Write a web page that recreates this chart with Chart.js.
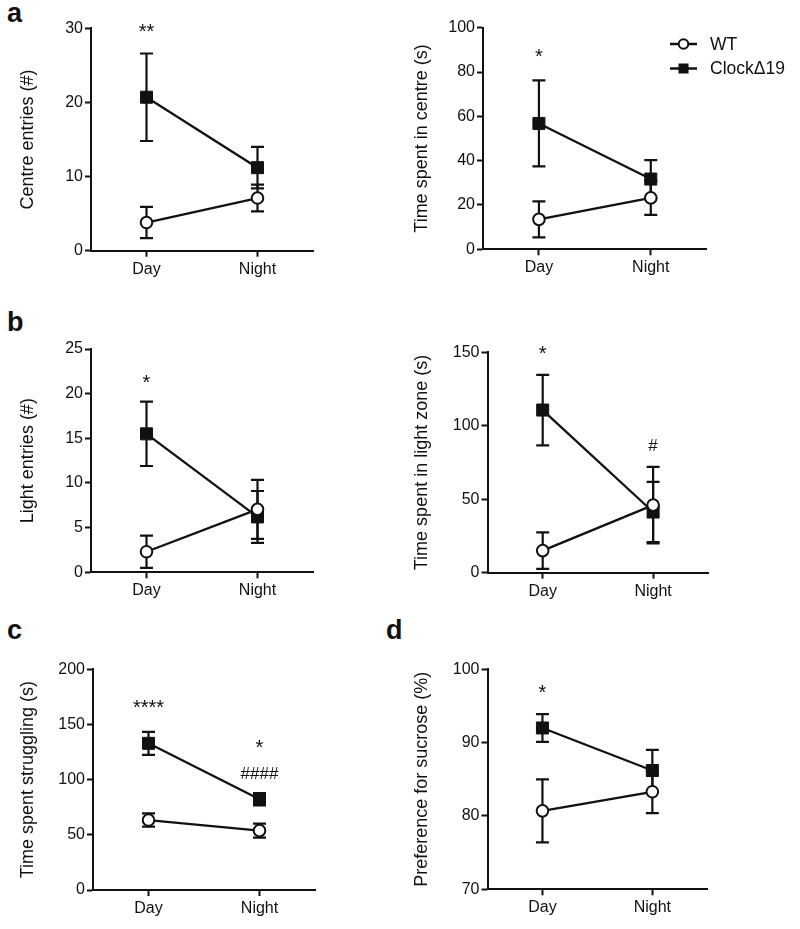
<!DOCTYPE html>
<html lang="en">
<head>
<meta charset="UTF-8">
<title>Clock&#916;19 behaviour, day vs night</title>
<script src="https://cdn.jsdelivr.net/npm/chart.js"></script>
<style>
  body { margin: 0; background: #fff; }
  #wrap { position: relative; width: 800px; height: 929px; font-family: "Liberation Sans", Arial, sans-serif; color: #111; }
  .panel { position: absolute; }
  .letter { position: absolute; font-weight: bold; font-size: 27px; line-height: 1; }
</style>
</head>
<body>
<div id="wrap">
  <div class="letter" style="left:7px; top:0px;">a</div>
  <div class="letter" style="left:7px; top:309px;">b</div>
  <div class="letter" style="left:7px; top:617px;">c</div>
  <div class="letter" style="left:386px; top:617px;">d</div>
</div>

<script>
// categories and series
const categories = ['Day', 'Night'];
const seriesNames = ['WT', 'Clock\u039419'];

// a (left) centre entries
const centreEntriesWT = [3.8, 7.1];
const centreEntriesWTErr = [2.1, 1.8];
const centreEntriesClock = [20.7, 11.2];
const centreEntriesClockErr = [5.9, 2.8];
const centreEntriesTicks = [0, 10, 20, 30];

// a (right) time in centre
const centreTimeWT = [13.5, 23.2];
const centreTimeWTErr = [8.1, 7.7];
const centreTimeClock = [56.8, 31.7];
const centreTimeClockErr = [19.4, 8.5];
const centreTimeTicks = [0, 20, 40, 60, 80, 100];

// b (left) light entries
const lightEntriesWT = [2.3, 7.05];
const lightEntriesWTErr = [1.8, 3.3];
const lightEntriesClock = [15.5, 6.2];
const lightEntriesClockErr = [3.6, 2.9];
const lightEntriesTicks = [0, 5, 10, 15, 20, 25];

// b (right) time in light zone
const lightTimeWT = [15, 46];
const lightTimeWTErr = [12.4, 26];
const lightTimeClock = [110.7, 41.3];
const lightTimeClockErr = [24, 20.5];
const lightTimeTicks = [0, 50, 100, 150];

// c struggling
const strugglingWT = [63.4, 53.8];
const strugglingWTErr = [6, 6.3];
const strugglingClock = [132.9, 82.2];
const strugglingClockErr = [10.4, 5.5];
const strugglingTicks = [0, 50, 100, 150, 200];

// d sucrose preference
const sucroseWT = [80.7, 83.3];
const sucroseWTErr = [4.3, 2.9];
const sucroseClock = [92.0, 86.2];
const sucroseClockErr = [1.9, 2.8];
const sucroseTicks = [70, 80, 90, 100];

const family = '"Liberation Sans", Arial, Helvetica, sans-serif';
const ink = '#111';
Chart.defaults.font.family = family;
Chart.defaults.color = ink;

// error bars drawn under the lines and markers
const errorBars = {
  id: 'errorBars',
  beforeDatasetsDraw(chart) {
    const ctx = chart.ctx;
    const y = chart.scales.y;
    ctx.save();
    ctx.strokeStyle = ink;
    ctx.lineWidth = 2.2;
    chart.data.datasets.forEach((ds, i) => {
      chart.getDatasetMeta(i).data.forEach((pt, j) => {
        const top = y.getPixelForValue(ds.data[j] + ds.errors[j]);
        const bot = y.getPixelForValue(ds.data[j] - ds.errors[j]);
        ctx.beginPath();
        ctx.moveTo(pt.x, top); ctx.lineTo(pt.x, bot);
        ctx.moveTo(pt.x - 6.5, top); ctx.lineTo(pt.x + 6.5, top);
        ctx.moveTo(pt.x - 6.5, bot); ctx.lineTo(pt.x + 6.5, bot);
        ctx.stroke();
      });
    });
    ctx.restore();
  }
};

// significance marks (*, #), ink centred on a category and a y value
const notes = {
  id: 'notes',
  afterDatasetsDraw(chart, args, opts) {
    const ctx = chart.ctx;
    const x = chart.scales.x, y = chart.scales.y;
    ctx.save();
    ctx.fillStyle = ink;
    ctx.textAlign = 'center';
    ctx.textBaseline = 'alphabetic';
    (opts.items || []).forEach(n => {
      ctx.font = (n.text[0] === '*' ? '20px ' : '17px ') + family;
      const m = ctx.measureText(n.text);
      const shift = (m.actualBoundingBoxAscent - m.actualBoundingBoxDescent) / 2;
      ctx.fillText(n.text, x.getPixelForValue(n.cat), y.getPixelForValue(n.value) + shift);
    });
    ctx.restore();
  }
};

// line + marker legend, only on the top right panel
const lineLegend = {
  id: 'lineLegend',
  afterDraw(chart, args, opts) {
    if (!opts.show) return;
    const ctx = chart.ctx;
    ctx.save();
    chart.data.datasets.forEach((ds, i) => {
      const yy = opts.y + i * opts.gap;
      ctx.strokeStyle = ink;
      ctx.lineWidth = 2.5;
      ctx.beginPath();
      ctx.moveTo(opts.x, yy); ctx.lineTo(opts.x + 27, yy);
      ctx.stroke();
      const cx = opts.x + 13.5;
      if (i === 0) {
        ctx.fillStyle = '#fff';
        ctx.lineWidth = 2;
        ctx.beginPath();
        ctx.arc(cx, yy, 4.8, 0, Math.PI * 2);
        ctx.fill(); ctx.stroke();
      } else {
        ctx.fillStyle = ink;
        ctx.fillRect(cx - 5, yy - 5, 10, 10);
      }
      ctx.fillStyle = ink;
      ctx.font = '17.5px ' + family;
      ctx.textAlign = 'left';
      ctx.textBaseline = 'middle';
      ctx.fillText(ds.label, opts.x + 40, yy + 1);
    });
    ctx.restore();
  }
};

function makePanel(p) {
  const wrap = document.getElementById('wrap');
  const box = document.createElement('div');
  box.className = 'panel';
  box.style.left = p.left + 'px';
  box.style.top = p.top + 'px';
  const canvas = document.createElement('canvas');
  canvas.width = p.width;
  canvas.height = p.height;
  box.appendChild(canvas);
  wrap.appendChild(box);

  const axisX = p.axisX - p.left;
  const areaTop = p.areaTop - p.top;
  const areaBottom = p.areaBottom - p.top;
  const areaRight = p.areaRight - p.left;

  new Chart(canvas, {
    type: 'line',
    data: {
      labels: categories,
      datasets: [
        {
          label: seriesNames[0], data: p.wt, errors: p.wtErr,
          borderColor: ink, borderWidth: 2.3, backgroundColor: '#fff',
          pointStyle: 'circle', pointRadius: 5.8, pointBorderWidth: 2,
          pointBackgroundColor: '#fff', pointBorderColor: ink
        },
        {
          label: seriesNames[1], data: p.clock, errors: p.clockErr,
          borderColor: ink, borderWidth: 2.3, backgroundColor: ink,
          pointStyle: 'rect', pointRadius: 8.5, pointBorderWidth: 1,
          pointBackgroundColor: ink, pointBorderColor: ink
        }
      ]
    },
    options: {
      responsive: false,
      animation: false,
      events: [],
      layout: { padding: { left: 0, top: areaTop, right: p.width - areaRight, bottom: 0 } },
      scales: {
        x: {
          type: 'category',
          offset: true,
          afterFit: s => { s.height = p.height - areaBottom; },
          border: { display: true, color: ink, width: 2 },
          grid: { display: true, drawOnChartArea: false, drawTicks: true, tickLength: 6, tickWidth: 2, tickColor: ink, offset: false },
          ticks: { color: ink, font: { size: 16 }, padding: 3 }
        },
        y: {
          min: p.ticks[0],
          max: p.ticks[p.ticks.length - 1],
          afterBuildTicks: s => { s.ticks = p.ticks.map(v => ({ value: v })); },
          afterFit: s => { s.width = axisX; },
          border: { display: true, color: ink, width: 2 },
          grid: { display: true, drawOnChartArea: false, drawTicks: true, tickLength: 6, tickWidth: 2, tickColor: ink },
          ticks: { color: ink, font: { size: 16 }, padding: 2 },
          title: { display: true, text: p.yTitle, color: ink, font: { size: 18 }, padding: { top: p.titlePad, bottom: 0 } }
        }
      },
      plugins: {
        legend: { display: false },
        tooltip: { enabled: false },
        notes: { items: p.notes },
        lineLegend: p.legend || { show: false }
      }
    },
    plugins: [errorBars, notes, lineLegend]
  });
}

makePanel({
  left: 0, top: 0, width: 400, height: 300,
  axisX: 91, areaTop: 28.3, areaBottom: 250.7, areaRight: 313,
  titlePad: 17, yTitle: 'Centre entries (#)', ticks: centreEntriesTicks,
  wt: centreEntriesWT, wtErr: centreEntriesWTErr, clock: centreEntriesClock, clockErr: centreEntriesClockErr,
  notes: [{ text: '**', cat: 0, value: 30.0 }]
});
makePanel({
  left: 400, top: 0, width: 400, height: 300,
  axisX: 483, areaTop: 27.7, areaBottom: 249.3, areaRight: 706.7,
  titlePad: 11, yTitle: 'Time spent in centre (s)', ticks: centreTimeTicks,
  wt: centreTimeWT, wtErr: centreTimeWTErr, clock: centreTimeClock, clockErr: centreTimeClockErr,
  notes: [{ text: '*', cat: 0, value: 88.4 }],
  legend: { show: true, x: 270, y: 44, gap: 24.5 }
});
makePanel({
  left: 0, top: 300, width: 400, height: 310,
  axisX: 91, areaTop: 349, areaBottom: 572.3, areaRight: 313,
  titlePad: 17, yTitle: 'Light entries (#)', ticks: lightEntriesTicks,
  wt: lightEntriesWT, wtErr: lightEntriesWTErr, clock: lightEntriesClock, clockErr: lightEntriesClockErr,
  notes: [{ text: '*', cat: 0, value: 21.6 }]
});
makePanel({
  left: 400, top: 300, width: 400, height: 310,
  axisX: 487.5, areaTop: 352.3, areaBottom: 572.7, areaRight: 708.3,
  titlePad: 11, yTitle: 'Time spent in light zone (s)', ticks: lightTimeTicks,
  wt: lightTimeWT, wtErr: lightTimeWTErr, clock: lightTimeClock, clockErr: lightTimeClockErr,
  notes: [{ text: '*', cat: 0, value: 151.6 }, { text: '#', cat: 1, value: 86.9 }]
});
makePanel({
  left: 0, top: 610, width: 400, height: 319,
  axisX: 93, areaTop: 669.3, areaBottom: 890, areaRight: 315,
  titlePad: 17, yTitle: 'Time spent struggling (s)', ticks: strugglingTicks,
  wt: strugglingWT, wtErr: strugglingWTErr, clock: strugglingClock, clockErr: strugglingClockErr,
  notes: [
    { text: '****', cat: 0, value: 169 },
    { text: '*', cat: 1, value: 131.9 },
    { text: '####', cat: 1, value: 105.6 }
  ]
});
makePanel({
  left: 400, top: 610, width: 400, height: 319,
  axisX: 487.5, areaTop: 669.3, areaBottom: 889.3, areaRight: 707.3,
  titlePad: 11, yTitle: 'Preference for sucrose (%)', ticks: sucroseTicks,
  wt: sucroseWT, wtErr: sucroseWTErr, clock: sucroseClock, clockErr: sucroseClockErr,
  notes: [{ text: '*', cat: 0, value: 97.3 }]
});
</script>
</body>
</html>
